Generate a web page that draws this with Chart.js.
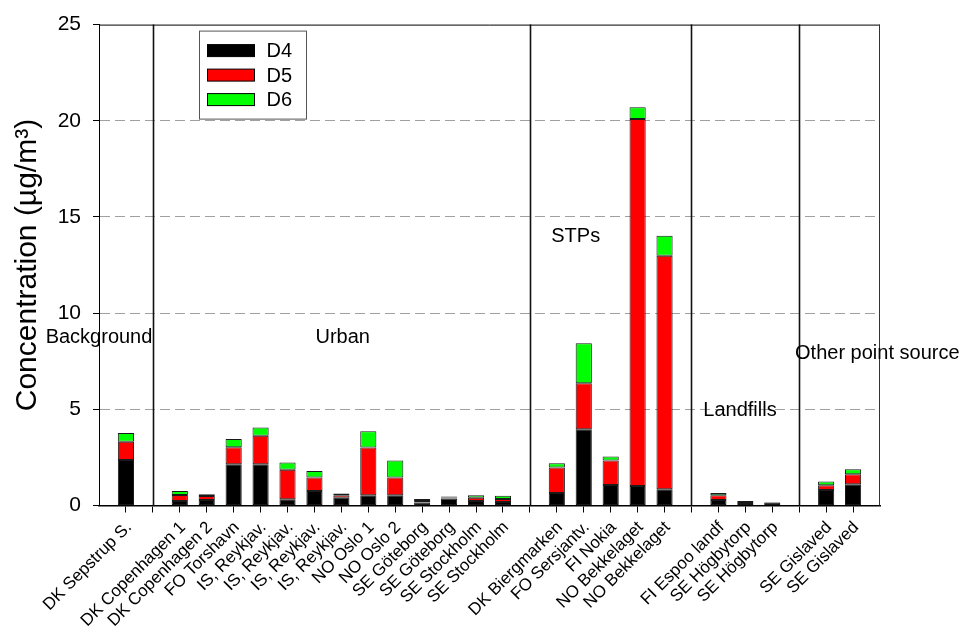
<!DOCTYPE html>
<html><head><meta charset="utf-8">
<script src="https://cdn.jsdelivr.net/npm/chart.js@4/dist/chart.umd.min.js"></script>
<style>html,body{margin:0;padding:0;background:#fff}#wrap{width:964px;height:633px;position:relative}</style>
</head><body><div id="wrap"><canvas id="c"></canvas></div>
<script>
// ---- data ----
const categories = ['', 'DK Sepstrup S.', '', 'DK Copenhagen 1', 'DK Copenhagen 2', 'FO Torshavn',
  'IS, Reykjav.', 'IS, Reykjav.', 'IS, Reykjav.', 'IS, Reykjav.', 'NO Oslo 1', 'NO Oslo 2',
  'SE Göteborg', 'SE Göteborg', 'SE Stockholm', 'SE Stockholm', '',
  'DK Biergmarken', 'FO Sersjantv.', 'FI Nokia', 'NO Bekkelaget', 'NO Bekkelaget', '',
  'FI Espoo landf', 'SE Högbytorp', 'SE Högbytorp', '', 'SE Gislaved', 'SE Gislaved', ''];
const D4 = [null, 2.36, null, 0.23, 0.28, 2.15, 2.15, 0.32, 0.75, 0.40, 0.53, 0.53, 0.15, 0.36, 0.23, 0.18, null,
  0.65, 3.96, 1.06, 1.01, 0.84, null, 0.28, 0.08, 0.14, null, 0.80, 1.11, null];
const D5 = [null, 0.95, null, 0.31, 0.21, 0.88, 1.47, 1.54, 0.71, 0.13, 2.48, 0.93, 0.08, 0.06, 0.17, 0.16, null,
  1.33, 2.39, 1.28, 19.08, 12.14, null, 0.25, 0.05, 0.03, null, 0.25, 0.51, null];
const D6 = [null, 0.46, null, 0.21, 0.09, 0.43, 0.43, 0.38, 0.34, 0.10, 0.85, 0.88, 0.11, 0.05, 0.13, 0.17, null,
  0.21, 2.09, 0.21, 0.61, 1.04, null, 0.12, 0.10, 0.01, null, 0.20, 0.26, null];
const seriesNames = ['D4', 'D5', 'D6'];
const yTicks = [0, 5, 10, 15, 20, 25];
const groupNames = ['Background', 'Urban', 'STPs', 'Landfills', 'Other point source'];
const yTitle = 'Concentration (µg/m³)';

// ---- styling / layout ----
const FONT = "'Liberation Sans', Arial, sans-serif";
const colors = ['#000000', '#ff0000', '#00ff00'];
// annotation anchors (category index, value)
const groupAnchors = [[0, 8.73], [9.05, 8.73], [17.7, 13.96], [23.8, 4.95], [28.9, 7.9]];

const overlay = {
  id: 'overlay',
  afterDatasetsDraw(chart) {
    const {ctx, chartArea: a, scales: {x, y}} = chart;
    ctx.save();
    // group separators
    ctx.strokeStyle = '#111';
    ctx.lineWidth = 1.6;
    categories.forEach((c, i) => {
      if (c === '' && i > 0 && i < categories.length - 1) {
        const px = Math.round(x.getPixelForValue(i)) + 0.5;
        ctx.beginPath(); ctx.moveTo(px, a.top); ctx.lineTo(px, a.bottom); ctx.stroke();
      }
    });
    // top and right frame
    ctx.lineWidth = 1;
    ctx.strokeStyle = '#000';
    ctx.beginPath(); ctx.moveTo(a.left, a.top + 0.5); ctx.lineTo(a.right, a.top + 0.5); ctx.stroke();
    ctx.strokeStyle = '#333';
    ctx.beginPath(); ctx.moveTo(a.right - 0.5, a.top); ctx.lineTo(a.right - 0.5, a.bottom); ctx.stroke();
    // group annotations
    ctx.fillStyle = '#000';
    ctx.font = '20px ' + FONT;
    ctx.textAlign = 'center';
    ctx.textBaseline = 'middle';
    groupNames.forEach((g, i) => {
      const [ix, v] = groupAnchors[i];
      ctx.fillText(g, x.getPixelForValue(ix), y.getPixelForValue(v));
    });
    // legend
    const lx = a.left + 100.5, ly = a.top + 6.5, lw = 107, lh = 88;
    ctx.fillStyle = '#fff';
    ctx.fillRect(lx, ly, lw, lh);
    ctx.strokeStyle = '#555';
    ctx.lineWidth = 1;
    ctx.strokeRect(lx, ly, lw, lh);
    ctx.textAlign = 'left';
    chart.data.datasets.forEach((ds, i) => {
      const cy = ly + 19.5 + i * 24.5;
      ctx.fillStyle = ds.backgroundColor;
      ctx.fillRect(lx + 8, cy - 6, 47, 12);
      ctx.strokeStyle = '#000';
      ctx.strokeRect(lx + 8, cy - 6, 47, 12);
      ctx.fillStyle = '#000';
      ctx.fillText(ds.label, lx + 67, cy + 1);
    });
    ctx.restore();
  }
};

const series = [D4, D5, D6];
new Chart(document.getElementById('c'), {
  type: 'bar',
  data: {
    labels: categories,
    datasets: series.map((d, i) => ({
      label: seriesNames[i],
      data: d,
      backgroundColor: colors[i],
      borderColor: '#1a1a1a',
      borderWidth: 1,
      borderSkipped: false,
      barPercentage: 0.6,
      categoryPercentage: 1
    }))
  },
  options: {
    responsive: true,
    maintainAspectRatio: false,
    animation: false,
    layout: {padding: {top: 22.5, right: 84, left: 0, bottom: 0}},
    plugins: {legend: {display: false}, tooltip: {enabled: false}},
    scales: {
      x: {
        stacked: true,
        offset: false,
        ticks: {autoSkip: false, maxRotation: 45, minRotation: 45, color: '#000',
          font: {size: 17, family: FONT}, padding: 5, labelOffset: 3},
        grid: {offset: false, drawOnChartArea: false, drawTicks: true, tickLength: 7,
          tickColor: c => (c.index === 0 || c.index === categories.length - 1) ? 'rgba(0,0,0,0)' : '#000'},
        border: {display: true, color: '#000', width: 1.6},
        afterFit: s => { s.height = 127.5; }
      },
      y: {
        stacked: true,
        min: yTicks[0], max: yTicks[yTicks.length - 1],
        afterBuildTicks: s => { s.ticks = yTicks.map(v => ({value: v})); },
        ticks: {color: '#000', font: {size: 21, family: FONT}, padding: 12},
        grid: {
          color: c => (c.tick && (c.tick.value === 0 || c.tick.value === 25)) ? 'rgba(0,0,0,0)' : '#a0a0a0',
          lineWidth: 1, tickColor: '#000', tickLength: 6, tickBorderDash: [], drawTicks: true
        },
        border: {display: true, color: '#000', width: 1, dash: [10, 5]},
        title: {display: true, text: yTitle, color: '#000', font: {size: 30, family: FONT},
          padding: {top: 10, bottom: 0}},
        afterFit: s => { s.width = 99; }
      }
    }
  },
  plugins: [overlay]
});
</script>
</body></html>
